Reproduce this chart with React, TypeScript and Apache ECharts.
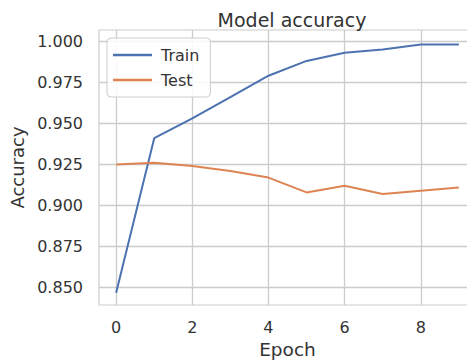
import React, { useEffect, useRef } from "react";
import * as echarts from "echarts";

const epochs = [0, 1, 2, 3, 4, 5, 6, 7, 8, 9];
const trainAcc = [0.847, 0.941, 0.953, 0.966, 0.979, 0.988, 0.993, 0.995, 0.998, 0.998];
const testAcc = [0.925, 0.926, 0.924, 0.921, 0.917, 0.908, 0.912, 0.907, 0.909, 0.911];
const xTicks = [0, 2, 4, 6, 8];
const yTicks = [0.85, 0.875, 0.9, 0.925, 0.95, 0.975, 1.0];

const FONT = "DejaVu Sans";
const TEXT = "#333333";
const GRID = "#cccccc";

export default function App() {
  const ref = useRef<HTMLDivElement>(null);
  useEffect(() => {
    const chart = echarts.init(ref.current!, null, { renderer: "svg" });
    chart.setOption({
      animation: false,
      backgroundColor: "#ffffff",
      title: {
        text: "Model accuracy",
        left: 287,
        top: 5,
        textAlign: "center",
        textStyle: { fontFamily: FONT, fontSize: 19, fontWeight: "normal", color: TEXT },
      },
      legend: {
        left: 107,
        top: 38,
        orient: "vertical",
        padding: [9, 11, 9, 6],
        itemGap: 9,
        itemWidth: 39,
        itemHeight: 2.5,
        icon: "rect",
        borderColor: GRID,
        borderWidth: 1,
        borderRadius: 4,
        backgroundColor: "rgba(255,255,255,0.85)",
        textStyle: { fontFamily: FONT, fontSize: 16, color: TEXT, padding: [0, 0, 0, 4] },
        data: ["Train", "Test"],
      },
      grid: { left: 99, right: 4, top: 30, bottom: 54, containLabel: false, show: true, borderColor: GRID, borderWidth: 1.2 },
      xAxis: {
        type: "value",
        min: -0.45,
        max: 9.45,
        name: "Epoch",
        nameLocation: "middle",
        nameGap: 35,
        nameTextStyle: { fontFamily: FONT, fontSize: 18.5, color: TEXT },
        axisLine: { show: false },
        axisTick: { show: false, customValues: xTicks },
        axisLabel: { customValues: xTicks, fontFamily: FONT, fontSize: 16, color: TEXT, margin: 14 },
        splitLine: { show: true, lineStyle: { color: GRID, width: 1.3 } },
      },
      yAxis: {
        type: "value",
        min: 0.8395,
        max: 1.0068,
        name: "Accuracy",
        nameLocation: "middle",
        nameGap: 73,
        nameTextStyle: { fontFamily: FONT, fontSize: 18, color: TEXT },
        axisLine: { show: false },
        axisTick: { show: false, customValues: yTicks },
        axisLabel: {
          customValues: yTicks,
          fontFamily: FONT,
          fontSize: 16,
          color: TEXT,
          margin: 16,
          formatter: (v: number) => v.toFixed(3),
        },
        splitLine: { show: true, lineStyle: { color: GRID, width: 1.3 } },
      },
      series: [
        {
          name: "Train",
          type: "line",
          data: epochs.map((e, i) => [e, trainAcc[i]]),
          showSymbol: false,
          symbol: "none",
          itemStyle: { color: "#4c72b0" },
          lineStyle: { color: "#4c72b0", width: 2 },
        },
        {
          name: "Test",
          type: "line",
          data: epochs.map((e, i) => [e, testAcc[i]]),
          showSymbol: false,
          symbol: "none",
          itemStyle: { color: "#dd8452" },
          lineStyle: { color: "#dd8452", width: 2 },
        },
      ],
    });
    return () => chart.dispose();
  }, []);
  return (
    <div
      ref={ref}
      style={{ position: "fixed", left: 0, top: 0, width: 480, height: 364 }}
    />
  );
}
